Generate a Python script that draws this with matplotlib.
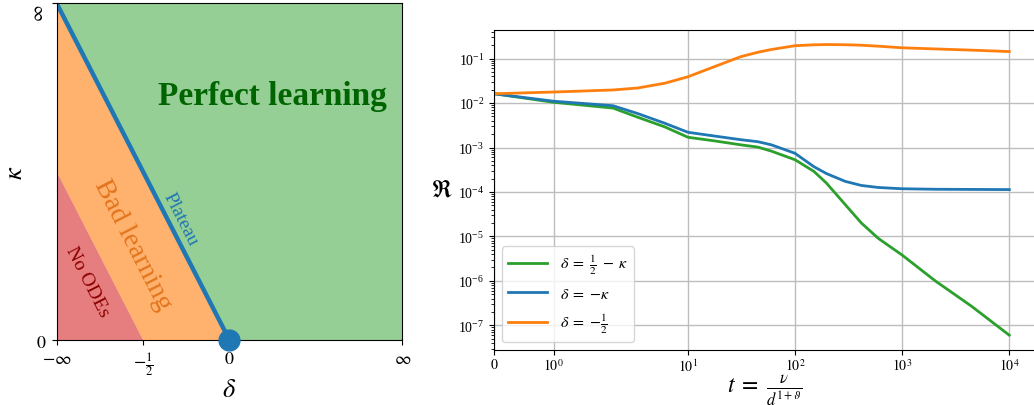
import numpy as np
import matplotlib
matplotlib.use('Agg')
from matplotlib import pyplot as plt
from matplotlib.ticker import NullLocator

plt.rcParams['font.family'] = ['Liberation Serif', 'DejaVu Serif']
plt.rcParams['mathtext.fontset'] = 'stix'

# --- phase diagram (left) ---
# delta axis: -1 stands for -inf, +1 for +inf ; kappa axis: 1 stands for inf
delta_ticks = [-1, -0.5, 0, 1]
delta_labels = [r'$-\infty$', r'$-\frac{1}{2}$', r'$0$', r'$\infty$']
kappa_ticks = [0, 1]
kappa_labels = [r'$0$', r'$\infty$']

region_noode_x = [-1, -0.5, -1]
region_noode_y = [0, 0, 0.5]
region_bad_x = [-1, -0.5, 0, -1]
region_bad_y = [0.5, 0, 0, 1]
region_perfect_x = [-1, 0, 1, 1]
region_perfect_y = [1, 0, 0, 1]
plateau_x = [0, -1]
plateau_y = [0, 1]

# --- risk curves (right) ---
t = [0, 1, 2, 3.4, 6.1, 10, 18, 31, 45, 60, 100, 150, 196, 294, 416, 600,
     1000, 2036, 4430, 10000]
risk_half_minus_kappa = [0.0162, 0.0104, 0.0077, 0.0048, 0.0029, 0.0017, 0.0014,
                         0.00115, 0.00102, 0.00083, 0.00053, 0.00029, 0.000159,
                         5.2e-5, 2.0e-5, 9e-6, 3.8e-6, 1e-6, 2.7e-7, 6e-8]
risk_minus_kappa = [0.0162, 0.011, 0.0087, 0.0058, 0.0035, 0.0022, 0.0018, 0.0015,
                    0.00135, 0.00115, 0.00074, 0.00037, 0.00026, 0.000173, 0.00014,
                    0.000126, 0.000118, 0.000115, 0.000114, 0.000113]
risk_minus_half = [0.0162, 0.0177, 0.0197, 0.0218, 0.028, 0.039, 0.067, 0.11,
                   0.139, 0.16, 0.195, 0.204, 0.207, 0.205, 0.2, 0.19, 0.175,
                   0.165, 0.155, 0.144]
t_ticks = [0, 1, 10, 100, 1000, 10000]
t_labels = ['$0$', '$10^{0}$', '$10^{1}$', '$10^{2}$', '$10^{3}$', '$10^{4}$']

fig = plt.figure(figsize=(10.34, 4.06), dpi=100)

ax1 = fig.add_axes([0.0548, 0.160, 0.3342, 0.8293])
ax1.fill(region_perfect_x, region_perfect_y, color='tab:green', alpha=0.5, lw=0)
ax1.fill(region_bad_x, region_bad_y, color='tab:orange', alpha=0.6, lw=0)
ax1.fill(region_noode_x, region_noode_y, color='tab:red', alpha=0.6, lw=0)
ax1.plot(plateau_x, plateau_y, color='tab:blue', lw=3.2, solid_capstyle='butt')
ax1.plot([0], [0], 'o', color='tab:blue', ms=15, clip_on=False, zorder=5)
ax1.set_xlim(-1, 1)
ax1.set_ylim(0, 1)
ax1.set_xticks(delta_ticks)
ax1.set_xticklabels(delta_labels, fontsize=13)
ax1.set_yticks(kappa_ticks)
ax1.set_yticklabels(kappa_labels, fontsize=13)
ax1.get_yticklabels()[1].set_rotation(90)
ax1.get_yticklabels()[1].set_va('top')
ax1.set_xlabel(r'$\delta$', fontsize=19, labelpad=2)
ax1.set_ylabel(r'$\kappa$', fontsize=19, labelpad=2)

ax1.text(0.246, 0.725, 'Perfect learning', color='darkgreen', fontsize=24,
         fontweight='bold', ha='center', va='center')
ax1.text(-0.558, 0.285, 'Bad learning', color='#e2741c', fontsize=20,
         rotation=-63, ha='center', va='center')
ax1.text(-0.281, 0.362, 'Plateau', color='tab:blue', fontsize=14,
         rotation=-63, ha='center', va='center')
ax1.text(-0.823, 0.176, 'No ODEs', color='#8b0000', fontsize=14,
         rotation=-63, ha='center', va='center')

ax2 = fig.add_axes([0.4778, 0.1362, 0.5232, 0.7874])
ax2.set_xscale('symlog', linthresh=2, linscale=1)
ax2.set_yscale('log')
ax2.plot(t, risk_half_minus_kappa, color='tab:green', lw=2,
         label=r'$\delta\;=\;\frac{1}{2}\;-\;\kappa$')
ax2.plot(t, risk_minus_kappa, color='tab:blue', lw=2, label=r'$\delta\;=\;{-}\kappa$')
ax2.plot(t, risk_minus_half, color='tab:orange', lw=2, label=r'$\delta\;=\;{-}\frac{1}{2}$')
ax2.set_xlim(left=0)
ax2.set_xticks(t_ticks)
ax2.set_xticklabels(t_labels, fontsize=10)
ax2.xaxis.set_minor_locator(NullLocator())
ax2.tick_params(axis='x', pad=2)
ax2.tick_params(axis='y', labelsize=10)
ax2.grid(True, which='major', color='#bdbdbd', lw=1.0)
ax2.spines['right'].set_visible(False)
ax2.set_xlabel(r'$t\;=\;\frac{\nu}{d^{1+\vartheta}}$', fontsize=17, labelpad=-1)
ax2.set_ylabel(r'$\mathfrak{R}$', fontsize=17, rotation=0, labelpad=12, va='center')
ax2.legend(loc='lower left', fontsize=11.5, handlelength=2.4, labelspacing=0.6)

fig.savefig('out.png', dpi=100)
